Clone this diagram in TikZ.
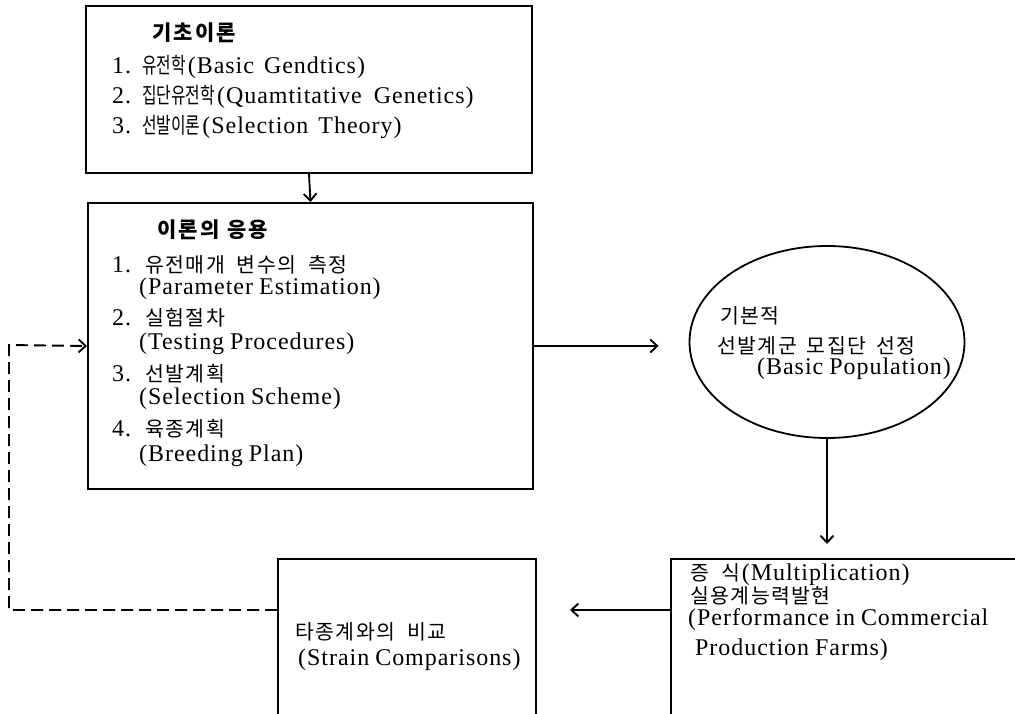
\documentclass[tikz,border=0pt]{standalone}
\usepackage{fontspec}
\setmainfont{Liberation Serif}[LetterSpace=4]
\newfontfamily\kr{Noto Sans CJK KR}[LetterSpace=7]
\newfontfamily\krs{Noto Sans CJK KR}[LetterSpace=0]
\newfontfamily\krb{Noto Sans CJK KR}[LetterSpace=10]
\usetikzlibrary{arrows.meta,shapes.geometric}
\newcommand\K[1]{{\kr\fontsize{20.5pt}{22pt}\selectfont #1}}
\newcommand\Ks[1]{\scalebox{0.72}[1]{\krs\fontsize{22pt}{24pt}\selectfont #1}}
\newcommand\Kb[1]{{\krb\bfseries\fontsize{21pt}{23pt}\selectfont #1}}
\tikzset{
  box/.style={draw, line width=2pt, anchor=north west, inner sep=0pt},
  ellbox/.style={draw, ellipse, line width=1.8pt, inner sep=0pt},
  tx/.style={anchor=west, inner sep=0pt, font=\fontsize{24pt}{28pt}\selectfont},
  conn/.style={line width=1.9pt, -{Straight Barb[length=7pt,width=13pt,line width=1.9pt]}},
  dconn/.style={line width=1.9pt, dash pattern=on 12pt off 6pt, -{Straight Barb[length=7pt,width=13pt,line width=1.9pt]}}
}
\begin{document}
\begin{tikzpicture}[x=1pt, y=-1pt]
\path[use as bounding box] (0,0) rectangle (1015,714);
\clip (0,0) rectangle (1015,714);

% boxes
\node[box, minimum width=446pt, minimum height=167pt] (b1) at (85,5) {};
\node[box, minimum width=445pt, minimum height=286pt] (b2) at (87,202) {};
\node[ellbox, minimum width=275pt, minimum height=192pt] (ell) at (827,342) {};
\node[box, minimum width=258pt, minimum height=190pt] (b3) at (277,558) {};
\node[box, minimum width=370pt, minimum height=156pt] (b4) at (670,558) {};

% box 1 text
\node[tx] (t10) at (152,33) {\Kb{기초이론}};
\node[tx] (t11) at (112,67) {\makebox[30pt][l]{1.}\Ks{유전학}\hspace{2pt}(Basic\hspace{10pt}Gendtics)};
\node[tx] (t12) at (112,97) {\makebox[30pt][l]{2.}\Ks{집단유전학}\hspace{2pt}(Quamtitative\hspace{12pt}Genetics)};
\node[tx] (t13) at (112,127) {\makebox[30pt][l]{3.}\Ks{선발이론}\hspace{2pt}(Selection\hspace{10pt}Theory)};

% box 2 text
\node[tx] (t20) at (157,230) {\Kb{이론의\hspace{8pt}응용}};
\node[tx] (t21) at (112,265) {\makebox[33pt][l]{1.}\K{유전매개\hspace{12pt}변수의\hspace{12pt}측정}};
\node[tx] (t22) at (139,289) {(Parameter\hspace{6pt}Estimation)};
\node[tx] (t23) at (112,318) {\makebox[33pt][l]{2.}\K{실험절차}};
\node[tx] (t24) at (139,344) {(Testing\hspace{6pt}Procedures)};
\node[tx] (t25) at (112,374) {\makebox[33pt][l]{3.}\K{선발계획}};
\node[tx] (t26) at (139,399) {(Selection\hspace{6pt}Scheme)};
\node[tx] (t27) at (112,429) {\makebox[33pt][l]{4.}\K{육종계획}};
\node[tx] (t28) at (139,456) {(Breeding\hspace{6pt}Plan)};

% ellipse text
\node[tx] (e1) at (720,316) {\K{기본적}};
\node[tx] (e2) at (717,346) {\K{선발계군\hspace{10pt}모집단\hspace{10pt}선정}};
\node[tx] (e3) at (757,369) {(Basic\hspace{6pt}Population)};

% box 3 text
\node[tx] (t31) at (295,632) {\K{타종계와의\hspace{12pt}비교}};
\node[tx] (t32) at (298,660) {(Strain\hspace{6pt}Comparisons)};

% box 4 text
\node[tx] (t41) at (690,575) {\K{증\hspace{12pt}식}\hspace{2pt}(Multiplication)};
\node[tx] (t42) at (690,596) {\K{실용계능력발현}};
\node[tx] (t43) at (688,620) {(Performance\hspace{6pt}in\hspace{6pt}Commercial};
\node[tx] (t44) at (695,650) {Production\hspace{6pt}Farms)};

% connectors
\draw[conn] (b1.south) -- (b2.north);
\draw[conn, shorten >=30pt] (b2.east) -- (b2.east -| ell.west);
\draw[conn, shorten >=14pt] (ell.south) -- (ell.south |- b4.north);
\draw[conn, shorten >=33pt] ([yshift=-52pt]b4.north west) -- ([yshift=-52pt]b3.north east);
\coordinate (dc) at (9,345);
\draw[dconn] ([yshift=-52pt]b3.north west) -| (dc) -- (b2.west);
\end{tikzpicture}
\end{document}
